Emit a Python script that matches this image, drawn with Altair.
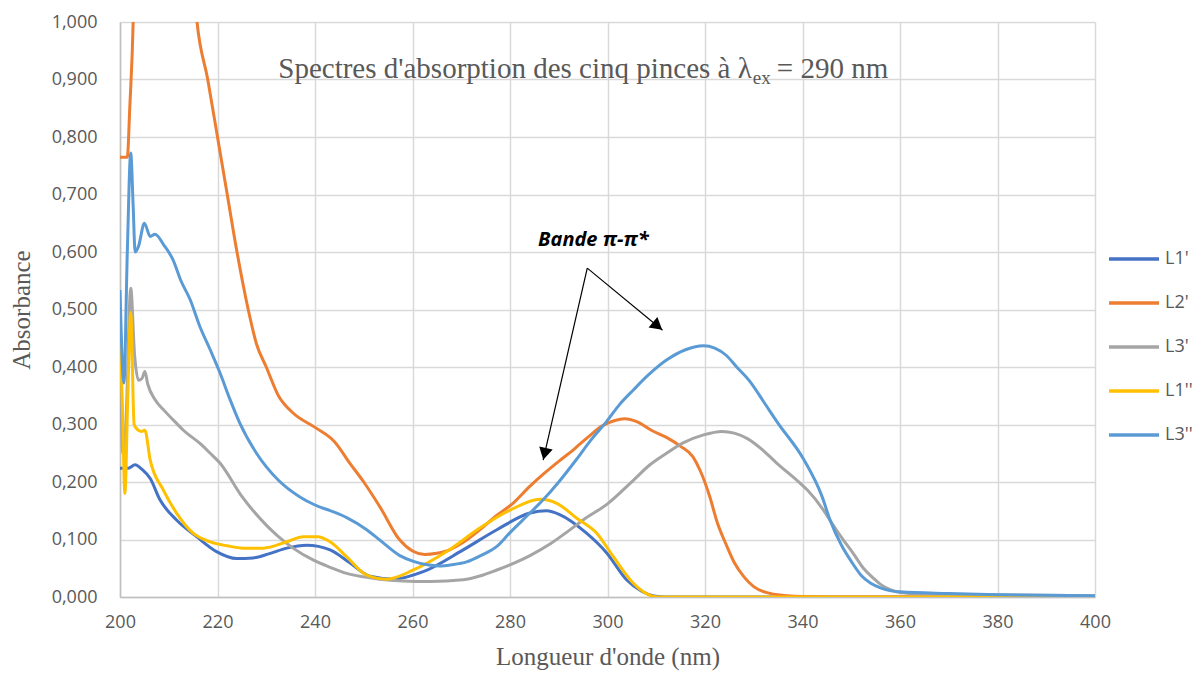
import math
import altair as alt
import pandas as pd

# ---------------- data ----------------
SERIES = ["L1'", "L2'", "L3'", "L1''", "L3''"]
COLORS = ["#4472C4", "#ED7D31", "#A5A5A5", "#FFC000", "#5B9BD5"]

L1p_nm = [200, 201.7, 203.1, 204.5, 206.2, 208.2, 211.6, 215.7, 219.8, 223.9, 227.3, 230.5, 234.2,
          238.3, 243.1, 247.2, 251.3, 256.1, 262.2, 270.4, 277.3, 284.1, 287.5, 290.3, 295.7,
          299.8, 303.9, 307, 309.5, 312, 320, 340, 360, 380, 400]
L1p_abs = [0.224, 0.224, 0.230, 0.222, 0.206, 0.169, 0.134, 0.105, 0.079, 0.067, 0.068, 0.075, 0.085,
           0.090, 0.082, 0.059, 0.036, 0.031, 0.044, 0.082, 0.117, 0.146, 0.150, 0.143, 0.111,
           0.077, 0.030, 0.010, 0.002, 0, 0, 0, 0, 0, 0]

L2p_nm = [200, 201.5, 202, 202.7, 203.5, 205, 208, 211, 214, 215.8, 218, 220, 222, 224, 226.3, 228,
          230, 232.5, 235.5, 240, 244, 247.2, 250, 253.3, 257.4, 260, 262.5, 265, 267, 270, 273.8,
          277, 280.6, 284, 287, 290, 293, 296, 299, 301.5, 303.5, 306, 309, 312, 315, 317.5, 319,
          321, 322.5, 324.4, 326, 328, 330, 334, 340, 350, 400]
L2p_abs = [0.765, 0.765, 0.85, 1.0, 1.4, 1.9, 2.1, 1.7, 1.2, 1.0, 0.9, 0.80, 0.70, 0.60, 0.50, 0.44,
           0.40, 0.35, 0.32, 0.295, 0.27, 0.232, 0.20, 0.157, 0.099, 0.080, 0.074, 0.076, 0.080,
           0.093, 0.117, 0.140, 0.163, 0.192, 0.215, 0.236, 0.256, 0.278, 0.298, 0.307, 0.310,
           0.305, 0.290, 0.278, 0.262, 0.244, 0.220, 0.174, 0.130, 0.090, 0.060, 0.035, 0.018,
           0.005, 0.001, 0, 0]

L3p_nm = [200, 200.6, 201.2, 202.2, 203, 203.8, 204.5, 205.1, 205.7, 207.2, 209, 211.6, 213, 216.4,
          218.5, 220.5, 225, 230, 232.5, 235.5, 239.7, 243, 246.5, 250, 253.3, 258, 263.6, 270.4,
          274, 277.3, 280, 284.1, 288.2, 292, 295, 300, 305.3, 308.7, 312.1, 315.5, 319.7, 323.5,
          326, 328.8, 331.5, 334.7, 339.5, 341, 344.3, 345.6, 348.4, 350.4, 352.5, 354.5, 356,
          358, 360, 365, 380, 400]
L3p_abs = [0.45, 0.25, 0.30, 0.537, 0.42, 0.377, 0.38, 0.392, 0.37, 0.343, 0.325, 0.302, 0.29, 0.267,
           0.25, 0.233, 0.175, 0.125, 0.105, 0.085, 0.064, 0.052, 0.041, 0.035, 0.031, 0.028, 0.027,
           0.030, 0.037, 0.047, 0.056, 0.072, 0.092, 0.115, 0.134, 0.162, 0.203, 0.230, 0.250,
           0.268, 0.282, 0.288, 0.285, 0.275, 0.258, 0.233, 0.198, 0.186, 0.151, 0.134, 0.099,
           0.076, 0.050, 0.033, 0.022, 0.013, 0.008, 0.005, 0.004, 0.002]

L1pp_nm = [200, 200.5, 201, 201.6, 202.2, 202.9, 203.5, 204.4, 205.1, 206.2, 208.9, 211.6, 215,
           218.5, 222, 225.3, 229.4, 234.2, 237.6, 240.5, 243.1, 246.5, 250.6, 254.7, 260.2, 267,
           273.8, 280, 286.2, 289.6, 293.7, 297.8, 301.2, 305.3, 308, 310.5, 320, 340, 360, 380, 400]
L1pp_abs = [0.46, 0.33, 0.18, 0.35, 0.495, 0.30, 0.292, 0.288, 0.29, 0.238, 0.186, 0.146, 0.111,
            0.096, 0.089, 0.085, 0.085, 0.096, 0.105, 0.105, 0.096, 0.070, 0.038, 0.031, 0.047,
            0.079, 0.120, 0.151, 0.170, 0.163, 0.137, 0.111, 0.070, 0.024, 0.006, 0, 0, 0, 0, 0, 0]

L3pp_nm = [200, 200.8, 201.5, 202.2, 202.7, 203.1, 203.8, 205, 206.2, 207.2, 209, 210.9, 212.5,
           214.4, 216.4, 218.5, 220.5, 222.5, 224.6, 228, 232.5, 236.9, 240, 243.8, 246.5, 250.6,
           253.3, 257.4, 260.2, 263, 265.6, 268, 271.1, 274, 277.3, 280, 284.1, 286.8, 290, 293.7,
           296.5, 299.8, 302.5, 305.3, 308.5, 312.1, 316, 319.7, 322, 324.4, 326.5, 329.2, 332,
           335, 340.2, 344, 345.6, 348, 350, 352, 354, 356, 360, 370, 380, 400]
L3pp_abs = [0.534, 0.372, 0.60, 0.772, 0.68, 0.60, 0.61, 0.650, 0.627, 0.631, 0.612, 0.586, 0.55,
            0.517, 0.47, 0.43, 0.39, 0.345, 0.302, 0.25, 0.203, 0.174, 0.16, 0.148, 0.138, 0.117,
            0.099, 0.072, 0.062, 0.056, 0.054, 0.056, 0.061, 0.072, 0.088, 0.112, 0.146, 0.169,
            0.20, 0.24, 0.272, 0.305, 0.335, 0.36, 0.387, 0.412, 0.43, 0.437, 0.433, 0.42, 0.40,
            0.375, 0.34, 0.302, 0.24, 0.175, 0.135, 0.09, 0.062, 0.038, 0.024, 0.016, 0.009, 0.006,
            0.004, 0.002]

X_TICKS = list(range(200, 401, 20))
Y_TICKS = [round(i * 0.1, 1) for i in range(11)]

TITLE_MAIN = "Spectres d'absorption des cinq pinces à λ"
TITLE_SUB = "ex"
TITLE_END = " = 290 nm"
BAND_LABEL = "Bande π-π*"

# annotation anchors (data coordinates)
TITLE_AT = (329.6, 0.9026)
BAND_AT = (297.1, 0.621)
ARROW_FROM = (295.85, 0.572)
ARROW_TIPS = [(286.8, 0.238), (311.3, 0.464)]

# ---------------- build tables ----------------
rows = []
for k, (name, xs, ys) in enumerate(zip(SERIES,
                                      [L1p_nm, L2p_nm, L3p_nm, L1pp_nm, L3pp_nm],
                                      [L1p_abs, L2p_abs, L3p_abs, L1pp_abs, L3pp_abs])):
    for x, y in zip(xs, ys):
        rows.append({"series": name, "k": k, "nm": x, "abs": y})
df = pd.DataFrame(rows)

W, H = 975, 575
PX_X = W / 200.0
PX_Y = H / 1.0

arrows = pd.DataFrame([{"x": ARROW_FROM[0], "y": ARROW_FROM[1], "x2": t[0], "y2": t[1]} for t in ARROW_TIPS])
heads = []
for t in ARROW_TIPS:
    dxp = (t[0] - ARROW_FROM[0]) * PX_X
    dyp = -(t[1] - ARROW_FROM[1]) * PX_Y
    L = math.hypot(dxp, dyp)
    ux, uy = dxp / L, dyp / L
    back = 6.5
    cx = t[0] - back * ux / PX_X
    cy = t[1] + back * uy / PX_Y
    ang = math.degrees(math.atan2(dxp, -dyp)) % 360
    heads.append({"x": cx, "y": cy, "angle": ang})
heads = pd.DataFrame(heads)

GREY_TXT = "#595959"
SANS = "Open Sans"
SERIF = "Liberation Serif"

xscale = alt.Scale(domain=[200, 400], nice=False, zero=False)
yscale = alt.Scale(domain=[0, 1], nice=False)

xaxis = alt.Axis(values=X_TICKS, grid=True, ticks=False, labelFlush=False,
                 labelFont=SANS, labelFontSize=18, labelColor=GREY_TXT, labelPadding=16,
                 title="Longueur d'onde (nm)", titleFont=SERIF, titleFontSize=25,
                 titleFontWeight="normal", titleColor=GREY_TXT, titlePadding=13)
yaxis = alt.Axis(values=Y_TICKS, grid=True, ticks=False, labelFlush=False,
                 labelExpr="replace(format(datum.value, '.3f'), '.', ',')",
                 labelFont=SANS, labelFontSize=18, labelColor=GREY_TXT, labelPadding=23,
                 title="Absorbance", titleFont=SERIF, titleFontSize=25,
                 titleFontWeight="normal", titleColor=GREY_TXT, titlePadding=17)

lines = alt.Chart(df).mark_line(strokeWidth=3, clip=True, interpolate="monotone").encode(
    x=alt.X("nm:Q", scale=xscale, axis=xaxis),
    y=alt.Y("abs:Q", scale=yscale, axis=yaxis),
    color=alt.Color("series:N", scale=alt.Scale(domain=SERIES, range=COLORS),
                    legend=alt.Legend(title=None, orient="none", legendX=987, legendY=210,
                                      symbolType="stroke", symbolSize=2500, symbolStrokeWidth=3.5,
                                      labelFont=SANS, labelFontSize=18, labelColor=GREY_TXT,
                                      labelOffset=4, rowPadding=8)),
    detail="k:O",
)

tdf = pd.DataFrame([{"x": TITLE_AT[0], "y": TITLE_AT[1]}])
t1 = alt.Chart(tdf).mark_text(text=TITLE_MAIN, align="right", baseline="alphabetic",
                              font=SERIF, fontSize=29, color=GREY_TXT).encode(x="x:Q", y="y:Q")
t2 = alt.Chart(tdf).mark_text(text=TITLE_SUB, align="left", baseline="alphabetic", dx=1, dy=6,
                              font=SERIF, fontSize=19, color=GREY_TXT).encode(x="x:Q", y="y:Q")
t3 = alt.Chart(tdf).mark_text(text=TITLE_END, align="left", baseline="alphabetic", dx=25,
                              font=SERIF, fontSize=29, color=GREY_TXT).encode(x="x:Q", y="y:Q")

bdf = pd.DataFrame([{"x": BAND_AT[0], "y": BAND_AT[1]}])
band = alt.Chart(bdf).mark_text(text=BAND_LABEL, align="center", baseline="middle",
                                font=SANS, fontSize=20, fontWeight="bold", fontStyle="italic",
                                color="black").encode(x="x:Q", y="y:Q")

rules = alt.Chart(arrows).mark_rule(color="black", strokeWidth=1.2).encode(
    x="x:Q", y="y:Q", x2="x2:Q", y2="y2:Q")
tri = alt.Chart(heads).mark_point(shape="triangle-up", filled=True, color="black", size=190,
                                  opacity=1).encode(x="x:Q", y="y:Q",
                                                    angle=alt.Angle("angle:Q", scale=None))

chart = alt.layer(lines, t1, t2, t3, band, rules, tri).properties(
    width=W, height=H,
    autosize=alt.AutoSizeParams(type="none"),
    padding={"left": 112, "top": 14, "right": 98, "bottom": 78},
    background="white",
).configure_view(stroke=None).configure_axis(
    gridColor="#d9d9d9", gridWidth=1.5, domainColor="#bfbfbf", domainWidth=1.5
)

chart.save("out.html", embed_options={"renderer": "svg", "actions": False})
